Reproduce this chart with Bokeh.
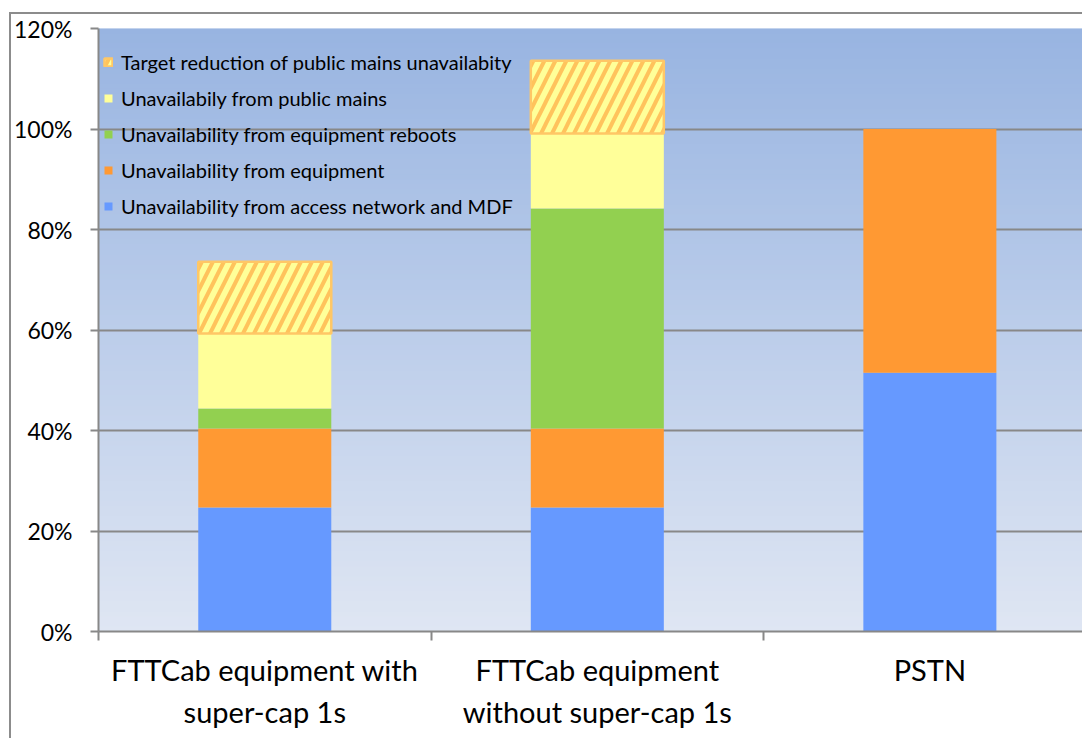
import numpy as np
from bokeh.plotting import figure
from bokeh.models import (ColumnDataSource, Range1d, FixedTicker, LinearAxis, NumeralTickFormatter,
                          Legend, LegendItem, BoxAnnotation, CDSView, BooleanFilter, Grid)
from bokeh.embed import file_html
from bokeh.resources import INLINE

# ---- data ----
categories = ["FTTCab equipment with\nsuper-cap 1s",
              "FTTCab equipment\nwithout super-cap 1s",
              "PSTN"]
access = [0.247, 0.247, 0.515]      # Unavailability from access network and MDF
equipment = [0.157, 0.157, 0.485]   # Unavailability from equipment
reboots = [0.040, 0.438, 0.0]       # Unavailability from equipment reboots
mains = [0.149, 0.149, 0.0]         # Unavailabily from public mains
target = [0.143, 0.145, 0.0]        # Target reduction of public mains unavailabity

series_labels = ["Unavailability from access network and MDF",
                 "Unavailability from equipment",
                 "Unavailability from equipment reboots",
                 "Unavailabily from public mains",
                 "Target reduction of public mains unavailabity"]
y_ticks = [0.0, 0.2, 0.4, 0.6, 0.8, 1.0, 1.2]

# ---- styling ----
colors = ["#6699ff", "#ff9933", "#92d050", "#ffff99"]
hatch_col = "#ffc35c"
grid_col = "#888888"
FONT = "Lato"

x = [i + 0.5 for i in range(len(categories))]
base = [a + b + c + d for a, b, c, d in zip(access, equipment, reboots, mains)]
tip = [b + t for b, t in zip(base, target)]
src = ColumnDataSource(dict(x=x, access=access, equipment=equipment, reboots=reboots,
                            mains=mains, target=target, base=base, tip=tip))

p = figure(width=1073, height=726, x_range=Range1d(0, 2.965), y_range=Range1d(0, 1.2),
           output_backend="svg", toolbar_location=None, x_axis_type=None, y_axis_type=None,
           min_border_left=87, min_border_right=0, min_border_top=14, min_border_bottom=109)
p.background_fill_color = "#dfe6f3"
p.border_fill_color = "white"
p.outline_line_color = None
p.styles = {"margin-left": "9px", "margin-top": "12px",
            "border-left": "2px solid #8c8c8c", "border-top": "2px solid #8c8c8c"}

# gradient background bands
n = 120
c0 = np.array([223, 230, 243])
c1 = np.array([152, 180, 225])
for i in range(n):
    t = (i + 0.5) / n
    c = (c0 + (c1 - c0) * t).round().astype(int)
    hx = "#%02x%02x%02x" % tuple(c)
    p.add_layout(BoxAnnotation(bottom=1.2 * i / n, top=1.2 * (i + 1) / n + 0.004,
                               fill_color=hx, fill_alpha=1, line_color=None, level="image"))

# axes
yax = LinearAxis(ticker=FixedTicker(ticks=y_ticks), formatter=NumeralTickFormatter(format="0%"))
yax.axis_line_color = grid_col
yax.axis_line_width = 2
yax.major_tick_line_color = grid_col
yax.major_tick_line_width = 2
yax.major_tick_out = 8
yax.major_tick_in = 0
yax.minor_tick_line_color = None
yax.major_label_text_font = FONT
yax.major_label_text_font_size = "23px"
yax.major_label_text_color = "black"
yax.major_label_standoff = 18
p.add_layout(yax, "left")

xax = LinearAxis(ticker=FixedTicker(ticks=x, minor_ticks=[0, 1, 2, 3]),
                 major_label_overrides={x[i]: categories[i] for i in range(len(categories))})
xax.axis_line_color = grid_col
xax.axis_line_width = 2
xax.major_tick_line_color = None
xax.major_tick_out = 0
xax.major_tick_in = 0
xax.minor_tick_in = 0
xax.minor_tick_out = 9
xax.minor_tick_line_color = grid_col
xax.minor_tick_line_width = 2
xax.major_label_text_font = FONT
xax.major_label_text_font_size = "29px"
xax.major_label_text_color = "black"
xax.major_label_text_line_height = 1.2
xax.major_label_standoff = 11
p.add_layout(xax, "below")

p.add_layout(Grid(dimension=1, ticker=FixedTicker(ticks=y_ticks), grid_line_color=grid_col,
                  grid_line_width=2))

# bars
rs = p.vbar_stack(["access", "equipment", "reboots", "mains"], x="x", width=0.4, source=src,
                  fill_color=colors, line_color=None)
view = CDSView(filter=BooleanFilter([t > 0 for t in target]))
rt = p.vbar(x="x", bottom="base", top="tip", width=0.4, source=src, view=view,
            fill_color="#ffff99", line_color="#ffc766", line_width=2.5,
            hatch_pattern="/", hatch_color=hatch_col, hatch_weight=4, hatch_scale=22)

renderers = list(rs) + [rt]
items = [LegendItem(label=series_labels[i], renderers=[renderers[i]]) for i in range(4, -1, -1)]
legend = Legend(items=items, location=(5, 413), padding=0, margin=0, spacing=12,
                glyph_width=10, glyph_height=10, label_height=24, label_standoff=8,
                background_fill_alpha=0, border_line_color=None,
                label_text_font=FONT, label_text_font_size="20px", label_text_color="black")
p.add_layout(legend)

open("out.html", "w").write(file_html(p, INLINE))
